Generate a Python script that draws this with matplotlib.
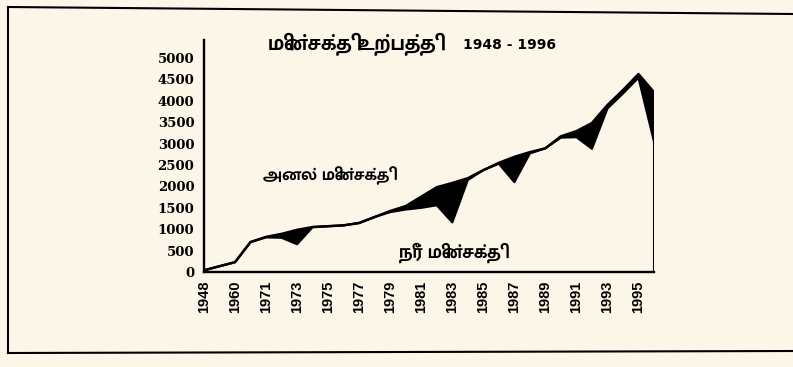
#!/usr/bin/env python
# -*- coding: utf-8 -*-
"""
Electricity generation 1948 - 1996: total output with the hydro share
underneath and the thermal share shaded in black between the two lines.
"""

import matplotlib
matplotlib.use('Agg')
import matplotlib.pyplot as plt
from matplotlib import font_manager
from matplotlib.ft2font import FT2Font
from matplotlib.lines import Line2D
import numpy as np

# Categories on the x axis (two unnamed steps before 1971, then yearly)
years = ['1948', '', '1960', '', '1971', '1972', '1973', '1974', '1975',
         '1976', '1977', '1978', '1979', '1980', '1981', '1982', '1983',
         '1984', '1985', '1986', '1987', '1988', '1989', '1990', '1991',
         '1992', '1993', '1994', '1995', '1996']

# Total generation (upper line)
total = [40, 135, 230, 700, 820, 890, 985, 1050, 1070, 1090, 1145, 1285,
         1425, 1540, 1760, 1980, 2080, 2190, 2380, 2550, 2690, 2800, 2890,
         3170, 3290, 3480, 3900, 4250, 4625, 4200]

# Hydro generation (lower line)
hydro = [40, 135, 230, 700, 810, 800, 650, 1050, 1070, 1090, 1145, 1285,
         1400, 1460, 1500, 1560, 1160, 2150, 2380, 2530, 2100, 2770, 2890,
         3140, 3150, 2880, 3820, 4170, 4540, 3050]

y_ticks = [0, 500, 1000, 1500, 2000, 2500, 3000, 3500, 4000, 4500, 5000]

title_tamil = 'மின்சக்தி உற்பத்தி'
title_years = '1948 - 1996'
thermal_label = 'அனல் மின்சக்தி'
hydro_label = 'நீர் மின்சக்தி'

PAPER = '#fbf6e8'
W, H = 793, 367


def find_tamil_family():
    """Return the name of an installed font that has Tamil glyphs"""
    names = []
    for entry in font_manager.fontManager.ttflist:
        try:
            if 0x0BAE in FT2Font(entry.fname).get_charmap():
                names.append((entry.weight in ('bold', 700), entry.name))
        except Exception:
            continue
    if not names:
        return None
    names.sort(reverse=True)
    return names[0][1]


def px(x, y):
    """Pixel position -> figure fraction"""
    return x / W, 1 - y / H


def main():
    tamil = find_tamil_family()
    families = [tamil, 'DejaVu Sans'] if tamil else ['DejaVu Sans']

    fig = plt.figure(figsize=(W / 100, H / 100), dpi=100, facecolor=PAPER)
    left, top = px(204, 40)
    right, bottom = px(654, 272)
    ax = fig.add_axes([left, bottom, right - left, top - bottom])
    ax.set_facecolor(PAPER)

    x = np.arange(len(years))
    ax.fill_between(x, hydro, total, facecolor='black', linewidth=0)
    ax.plot(x, total, color='black', linewidth=1.8, solid_joinstyle='round')
    ax.plot(x, hydro, color='black', linewidth=1.6, solid_joinstyle='round')
    # right edge of the area down to the axis
    ax.vlines(x[-1], 0, total[-1], color='black', linewidth=1.5)

    ax.set_xlim(0, len(years) - 1)
    ax.set_ylim(0, 5420)

    ax.set_yticks(y_ticks)
    ax.set_yticklabels([str(v) for v in y_ticks], family='DejaVu Serif',
                       fontweight='bold', fontsize=9.5)
    ax.set_xticks(x[::2])
    ax.set_xticklabels(years[::2], rotation=90, family='Liberation Sans',
                       fontweight='bold', fontsize=10.5)
    ax.tick_params(axis='y', length=0, pad=7)
    ax.tick_params(axis='x', length=0, pad=6)

    for side in ('top', 'right'):
        ax.spines[side].set_visible(False)
    for side in ('left', 'bottom'):
        ax.spines[side].set_linewidth(1.7)
        ax.spines[side].set_color('black')

    # labels for the two sources
    ax.text(7.9, 2260, thermal_label, family=families, fontweight='bold',
            fontsize=12.5, ha='center', va='center')
    ax.text(15.85, 455, hydro_label, family=families, fontweight='bold',
            fontsize=13.5, ha='center', va='center')

    # title: Tamil words, then the year range in a smaller face
    tx, ty = px(268, 44)
    fig.text(tx, ty, title_tamil, family=families, fontweight='bold',
             fontsize=15.5, ha='left', va='center')
    tx, ty = px(463, 45)
    fig.text(tx, ty, title_years, family='DejaVu Sans', fontweight='bold',
             fontsize=10, ha='left', va='center')

    # frame around the figure
    for (x0, y0), (x1, y1) in [((8, 7), (793, 14)), ((8, 7), (8, 353)),
                               ((8, 353), (793, 351))]:
        a, b = px(x0, y0)
        c, d = px(x1, y1)
        fig.add_artist(Line2D([a, c], [b, d], transform=fig.transFigure,
                              color='black', linewidth=1.5))

    fig.savefig('out.png', dpi=100, facecolor=PAPER)
    plt.close(fig)


if __name__ == '__main__':
    main()
